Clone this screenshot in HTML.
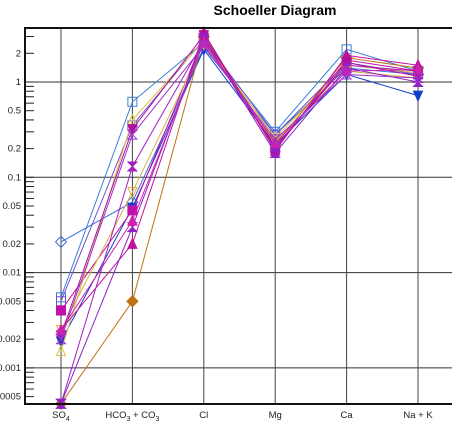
<!DOCTYPE html>
<html><head><meta charset="utf-8"><style>
body{margin:0;background:#fff;}
svg{display:block;font-family:"Liberation Sans",Arial,sans-serif;}
</style></head><body>
<svg id="chart" width="452" height="430" viewBox="0 0 452 430">
<text x="275" y="15" text-anchor="middle" font-size="14" font-weight="bold" fill="#000">Schoeller Diagram</text>
<g id="grid"></g>
<g id="series"></g>
<g id="axes"></g>
</svg>
<script>
const categories = ["SO4", "HCO3 + CO3", "Cl", "Mg", "Ca", "Na + K"];
const tickLabels = ["2","1","0.5","0.2","0.1","0.05","0.02","0.01","0.005","0.002","0.001","0.0005"];
const tickValues = [2,1,0.5,0.2,0.1,0.05,0.02,0.01,0.005,0.002,0.001,0.0005];
const s1 = [0.0055, 0.62, 2.6, 0.30, 2.2, 1.30];
const s2 = [0.021, 0.055, 2.3, 0.28, 1.40, 1.20];
const s3 = [0.0019, 0.048, 2.2, 0.22, 1.20, 0.72];
const s4 = [0.0050, 0.35, 2.8, 0.28, 1.60, 1.20];
const s5 = [0.0040, 0.045, 2.9, 0.20, 1.70, 1.30];
const s6 = [0.0015, 0.40, 2.7, 0.26, 1.50, 1.25];
const s7 = [0.0025, 0.07, 2.5, 0.24, 1.30, 1.10];
const s8 = [0.00042, 0.005, 3.0, 0.22, 1.80, 1.40];
const s9 = [0.0025, 0.020, 3.3, 0.19, 1.90, 1.50];
const s10 = [0.00042, 0.13, 2.7, 0.21, 1.50, 1.30];
const s11 = [0.0022, 0.32, 3.1, 0.20, 1.60, 1.15];
const s12 = [0.00042, 0.030, 2.9, 0.18, 1.40, 1.00];
const s13 = [0.0025, 0.035, 2.6, 0.23, 1.30, 1.35];
const s14 = [0.0020, 0.28, 2.4, 0.25, 1.20, 1.10];
const seriesList = [
 {v:s1,c:"#3a80d8",m:"sq",f:false},{v:s2,c:"#3a6fe0",m:"dia",f:false},
 {v:s3,c:"#1040c8",m:"dtri",f:true},{v:s4,c:"#7050d0",m:"sq",f:false},
 {v:s5,c:"#c010a8",m:"sq",f:true},{v:s6,c:"#d8c040",m:"tri",f:false},
 {v:s7,c:"#d8b040",m:"dtri",f:false},{v:s8,c:"#c07010",m:"dia",f:true},
 {v:s9,c:"#c010a0",m:"tri",f:true},{v:s10,c:"#a020c0",m:"hg",f:true},
 {v:s11,c:"#b0109a",m:"dtri",f:true},{v:s12,c:"#9020c8",m:"hg",f:true},
 {v:s13,c:"#d020b0",m:"tri",f:true},{v:s14,c:"#a030d0",m:"hg",f:false}
];
const NS="http://www.w3.org/2000/svg";
const L=25,T=28,B=404,R=452;
const yDecade=95.3, y1=82;
function yScale(v){return y1 - Math.log10(v)*yDecade;}
function xScale(i){return 61 + i*71.4;}
function mk(tag,attrs,parent){const e=document.createElementNS(NS,tag);for(const k in attrs)e.setAttribute(k,attrs[k]);parent.appendChild(e);return e;}
const grid=document.getElementById("grid"),axes=document.getElementById("axes"),sg=document.getElementById("series");
// horizontal grid lines at decades
[1,0.1,0.01,0.001].forEach(d=>{const l=mk("line",{x1:L,x2:R,y1:yScale(d),y2:yScale(d),stroke:"#333","stroke-width":1},grid);

});
categories.forEach((c,i)=>{const l=mk("line",{x1:xScale(i),x2:xScale(i),y1:T,y2:B,stroke:"#444","stroke-width":1},grid);

});
// minor ticks
for(let e=-4;e<=0;e++){for(let k=1;k<=9;k++){const v=k*Math.pow(10,e);const y=yScale(v);if(y<T||y>B)continue;
const t=mk("line",{x1:L,x2:L+9,y1:y,y2:y,stroke:"#222","stroke-width":1},axes);

}}
tickLabels.forEach((lab,i)=>{const t=mk("text",{x:L-4,y:yScale(tickValues[i])+3,"text-anchor":"end","font-size":"9.5",fill:"#222"},axes);t.textContent=lab;

});
// axes border
const ax=mk("path",{d:`M${R},${T} L${L},${T} L${L},${B} L${R},${B}`,fill:"none",stroke:"#111","stroke-width":2},axes);


// x labels
categories.forEach((c,i)=>{const t=mk("text",{x:xScale(i),y:418,"text-anchor":"middle","font-size":"9.5",fill:"#222"},axes);


if(c==="SO4"){t.innerHTML='SO<tspan font-size="7" dy="3">4</tspan>';}
else if(c==="HCO3 + CO3"){t.innerHTML='HCO<tspan font-size="7" dy="3">3</tspan><tspan dy="-3"> + CO</tspan><tspan font-size="7" dy="3">3</tspan>';}
else t.textContent=c;});
function marker(type,x,y,c,f,parent){const s=4.5;let e;
const fill=f?c:"none";
if(type==="sq")e=mk("rect",{x:x-s,y:y-s,width:2*s,height:2*s,fill:fill,stroke:c,"stroke-width":1},parent);
else if(type==="dia")e=mk("polygon",{points:`${x},${y-s-1} ${x+s+1},${y} ${x},${y+s+1} ${x-s-1},${y}`,fill:fill,stroke:c,"stroke-width":1},parent);
else if(type==="tri")e=mk("polygon",{points:`${x},${y-s-1} ${x+s},${y+s} ${x-s},${y+s}`,fill:fill,stroke:c,"stroke-width":1},parent);
else if(type==="dtri")e=mk("polygon",{points:`${x},${y+s+1} ${x+s},${y-s} ${x-s},${y-s}`,fill:fill,stroke:c,"stroke-width":1},parent);
else e=mk("polygon",{points:`${x-s},${y-s} ${x+s},${y-s} ${x-s},${y+s} ${x+s},${y+s}`,fill:fill,stroke:c,"stroke-width":1},parent);

}
seriesList.forEach((s,si)=>{const g=mk("g",{},sg);


const pts=s.v.map((v,i)=>xScale(i)+","+yScale(v)).join(" ");
const pl=mk("polyline",{points:pts,fill:"none",stroke:s.c,"stroke-width":1},g);


s.v.forEach((v,i)=>marker(s.m,xScale(i),yScale(v),s.c,s.f,g));});
</script>
</body></html>
